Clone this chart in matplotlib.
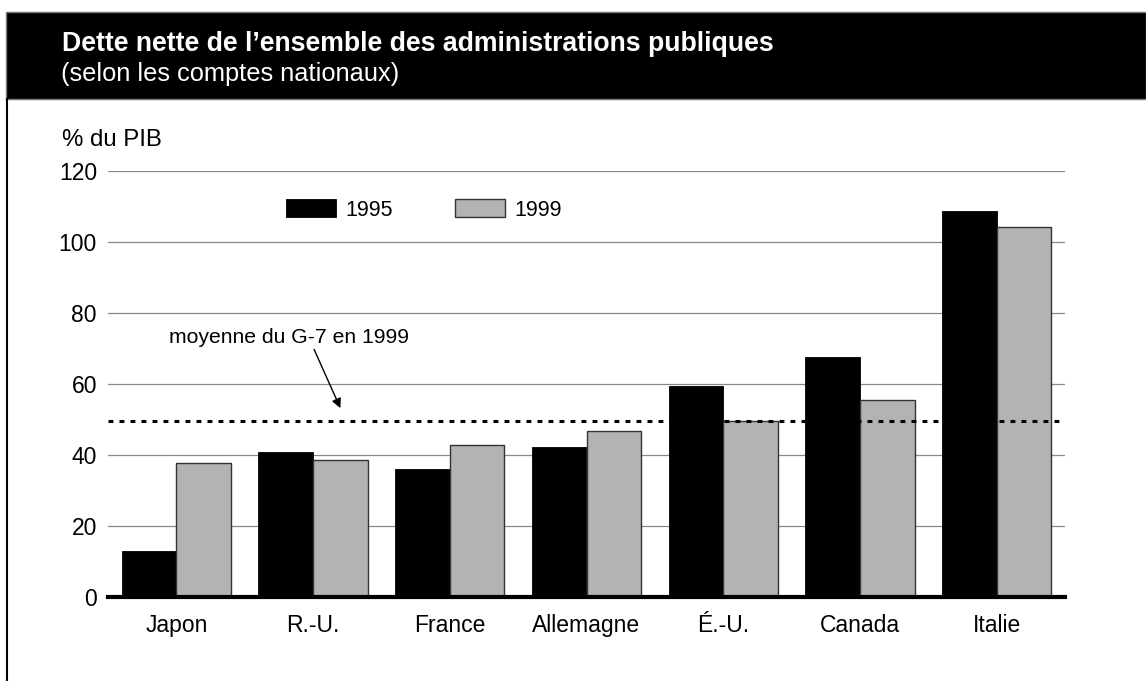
import numpy as np
import matplotlib.pyplot as plt
from matplotlib.patches import Rectangle
from matplotlib.lines import Line2D

plt.rcParams['font.family'] = ['Liberation Sans', 'DejaVu Sans']

pays = ['Japon', 'R.-U.', 'France', 'Allemagne', 'É.-U.', 'Canada', 'Italie']
dette_1995 = [13.0, 40.9, 36.1, 42.2, 59.3, 67.7, 108.7]
dette_1999 = [37.8, 38.6, 42.8, 46.9, 49.7, 55.5, 104.3]
moyenne_g7_1999 = 49.7
yticks = [0, 20, 40, 60, 80, 100, 120]

W, H = 1146, 681
fig = plt.figure(figsize=(W / 100, H / 100), dpi=100)

# black title band and left frame line
fig.patches.append(Rectangle((6 / W, 1 - 99 / H), 1 - 6 / W, 87 / H,
                             transform=fig.transFigure, facecolor='black',
                             edgecolor='#777777', linewidth=1))
fig.lines.append(Line2D([6.5 / W, 6.5 / W], [0, 1 - 99 / H],
                        transform=fig.transFigure, color='black', linewidth=1.5))
fig.text(62 / W, 1 - 51 / H, 'Dette nette de l\u2019ensemble des administrations publiques',
         color='white', fontsize=19.2, fontweight='bold', va='baseline')
fig.text(61 / W, 1 - 81 / H, '(selon les comptes nationaux)',
         color='white', fontsize=18.3, va='baseline')
fig.text(62 / W, 1 - 146 / H, '% du PIB', fontsize=17.3, va='baseline')

ax = fig.add_axes([108 / W, 1 - 597 / H, (1065 - 108) / W, (597 - 171) / H])
x = np.arange(len(pays))
w = 0.4
ax.bar(x - w / 2, dette_1995, w, color='black', edgecolor='black',
       linewidth=0.6, label='1995', zorder=2)
ax.bar(x + w / 2, dette_1999, w, color='#b3b3b3', edgecolor='#333333',
       linewidth=1, label='1999', zorder=2)

ax.axhline(moyenne_g7_1999, color='black', linewidth=2.2,
           linestyle=(0, (1.6, 2.0)), zorder=3)
ax.annotate('moyenne du G-7 en 1999', xy=(1.2, 53.2), xytext=(-0.055, 73.2),
            fontsize=15.2, va='center', ha='left',
            arrowprops=dict(arrowstyle='-|>', color='black', lw=1,
                            shrinkA=0, shrinkB=0, mutation_scale=14,
                            relpos=(0.6, 0.0)))

ax.set_xlim(-0.5, len(pays) - 0.5)
ax.set_ylim(0, 120)
ax.set_yticks(yticks)
ax.set_xticks(x)
ax.set_xticklabels(pays)
ax.tick_params(axis='both', length=0, labelsize=16.5)
ax.tick_params(axis='y', pad=8)
ax.tick_params(axis='x', pad=12)
ax.yaxis.grid(True, color='#888888', linewidth=0.9)
ax.set_axisbelow(True)
for s in ['left', 'right', 'top']:
    ax.spines[s].set_visible(False)
ax.spines['bottom'].set_linewidth(3)
ax.spines['bottom'].set_zorder(4)

ax.legend(loc='center left', bbox_to_anchor=(286 / W, 1 - 210 / H),
          bbox_transform=fig.transFigure, ncol=2, frameon=False,
          fontsize=15.5, handlelength=2.3, handleheight=0.9,
          handletextpad=0.45, columnspacing=2.9, borderpad=0, borderaxespad=0)

fig.savefig('out.png', dpi=100)
